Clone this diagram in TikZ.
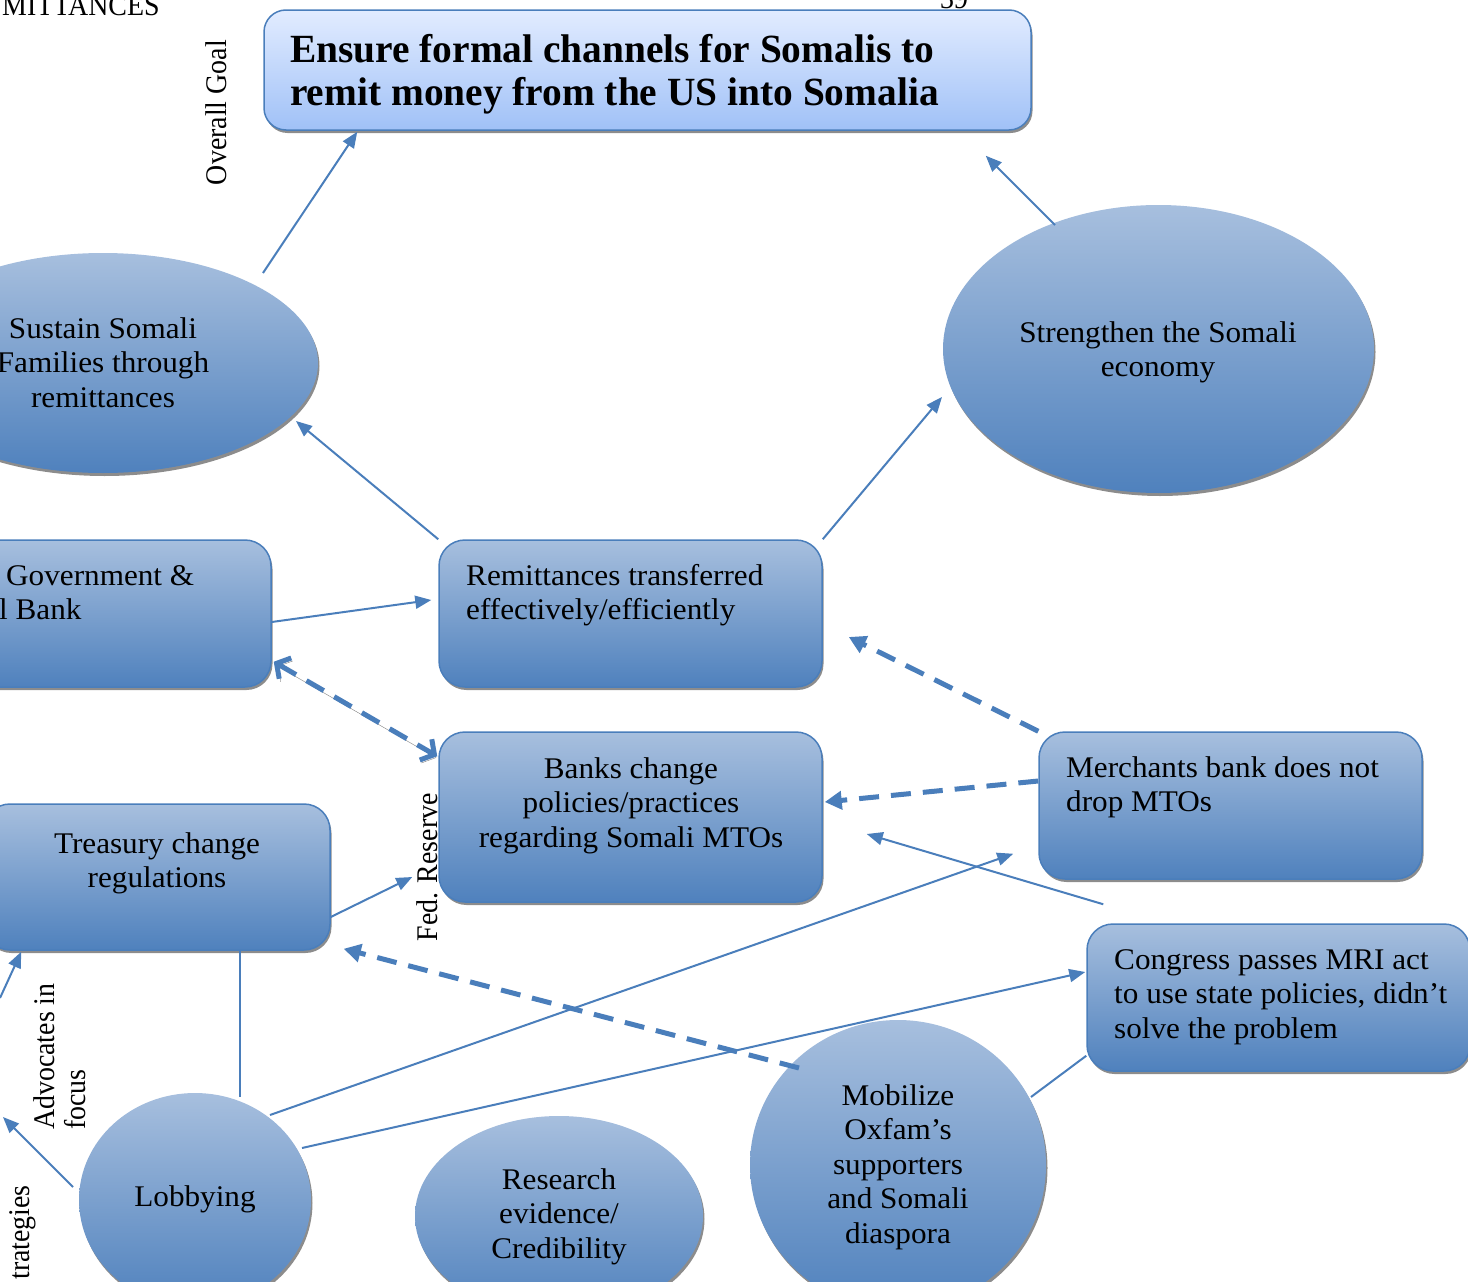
\documentclass[tikz,border=0pt]{standalone}
\usepackage{fontspec}
\setmainfont{Liberation Serif}[FakeStretch=1.04]
\newfontfamily\titlefont{Liberation Serif}[FakeStretch=0.985]
\newfontfamily\sidefont{Liberation Serif}[FakeStretch=0.93]
\usetikzlibrary{shapes.geometric,arrows.meta,calc,shadows}
\definecolor{lnblue}{RGB}{74,126,187}
\definecolor{boxtop}{RGB}{167,191,222}
\definecolor{boxbot}{RGB}{79,129,189}
\definecolor{ttop}{RGB}{226,236,255}
\definecolor{tbot}{RGB}{160,193,247}
\begin{document}
\begin{tikzpicture}[x=1pt,y=-1pt,
  font=\fontsize{30}{34.5}\selectfont,
  shad/.style={drop shadow={shadow xshift=1.5pt,shadow yshift=-3pt,fill=black!50,opacity=0.9}},
  rbox/.style={rectangle,rounded corners=26pt,draw=lnblue,line width=1.5pt,top color=boxtop,bottom color=boxbot,shad,inner sep=0pt},
  tbox/.style={rectangle,rounded corners=22pt,draw=lnblue,line width=1.5pt,top color=ttop,bottom color=tbot,shad,inner sep=0pt},
  oval/.style={ellipse,top color=boxtop,bottom color=boxbot,shad,inner sep=0pt},
  lbl/.style={inner sep=0pt,text=black},
  side/.style={lbl,font=\fontsize{30}{31}\sidefont},
  conn/.style={draw=lnblue,line width=2pt,-{Triangle[length=16pt,width=13pt]}},
  plainln/.style={draw=lnblue,line width=2pt},
  dconn/.style={draw=lnblue,line width=5pt,dash pattern=on 20pt off 12pt,-{Triangle[length=17pt,width=18pt]}},
  ddconn/.style={draw=lnblue,line width=5pt,dash pattern=on 20pt off 12pt,
     {Straight Barb[length=10pt,width=24pt,line width=5pt]}-{Straight Barb[length=10pt,width=24pt,line width=5pt]},
     preaction={draw=black!50,transform canvas={shift={(1.5pt,-3pt)}}}},
]
\useasboundingbox (0,0) rectangle (1468,1282);

% cut-off page texts
\node[side,anchor=base west] (hdr) at (2,16) {MITTANCES};
\node[side,anchor=base west] (pgn) at (940,9) {39};

% side labels
\node[side,rotate=90,anchor=base east] (lgoal) at (226,40) {Overall Goal};
\node[side,rotate=90,anchor=base east] (lfed) at (437,793) {Fed. Reserve};
\node[side,rotate=90,anchor=north west,align=left] (ladv) at (33,1130) {Advocates in\\focus};
\node[side,rotate=90,anchor=base east] (lstr) at (30,1185) {trategies};

% shapes
\node[tbox,minimum width=767pt,minimum height=120pt] (title) at (647.5,70) {};
\node[oval,minimum width=430pt,minimum height=220pt] (sustain) at (103,363) {};
\node[oval,minimum width=431pt,minimum height=288pt] (strength) at (1158.5,349) {};
\node[rbox,minimum width=401pt,minimum height=147pt] (gov) at (70.5,613.5) {};
\node[rbox,minimum width=383pt,minimum height=147pt] (rem) at (630.5,613.5) {};
\node[rbox,minimum width=383pt,minimum height=170pt] (banks) at (630.5,817) {};
\node[rbox,minimum width=383pt,minimum height=147pt] (merch) at (1230.5,805.5) {};
\node[rbox,minimum width=346pt,minimum height=146pt] (treas) at (157,877) {};
\node[rbox,minimum width=383pt,minimum height=147pt] (cong) at (1278.5,997.5) {};
\node[oval,minimum width=232pt,minimum height=214pt] (lobby) at (195,1200) {};
\node[oval,minimum width=288pt,minimum height=200pt] (research) at (559,1216) {};
\node[oval,minimum width=296pt,minimum height=290pt] (mobil) at (898,1165) {};

% texts (base anchor = baseline of last line)
\node[lbl,anchor=base west,align=left,font=\fontsize{40}{43}\titlefont\bfseries] (ttext) at (290,105) {Ensure formal channels for Somalis to\\remit money from the US into Somalia};
\node[lbl,anchor=base,align=center] (tsus) at (103,407) {Sustain Somali\\Families through\\remittances};
\node[lbl,anchor=base,align=center] (tstr) at (1158,376.5) {Strengthen the Somali\\economy};
\node[lbl,anchor=base west,align=left] (tgov) at (-1,619.5) {\hspace*{7pt}Government \&\\l Bank};
\node[lbl,anchor=base west,align=left] (trem) at (466,619.5) {Remittances transferred\\effectively/efficiently};
\node[lbl,anchor=base,align=center] (tban) at (631,847) {Banks change\\policies/practices\\regarding Somali MTOs};
\node[lbl,anchor=base west,align=left] (tmer) at (1066,811.5) {Merchants bank does not\\drop MTOs};
\node[lbl,anchor=base,align=center] (ttre) at (157,887.5) {Treasury change\\regulations};
\node[lbl,anchor=base west,align=left] (tcon) at (1114,1038) {Congress passes MRI act\\to use state policies, didn’t\\solve the problem};
\node[lbl,anchor=base] (tlob) at (195,1206) {Lobbying};
\node[lbl,anchor=base,align=center] (tres) at (559,1258) {Research\\evidence/\\Credibility};
\node[lbl,anchor=base,align=center] (tmob) at (898,1243) {Mobilize\\Oxfam’s\\supporters\\and Somali\\diaspora};

% free ends
\coordinate (pinA) at (0,998);
\coordinate (pinB) at (3,1117);

% connectors
\draw[conn] ($(sustain.center)+(160,-90)$) -- ($(title.south west)+(94,1)$);
\draw[conn] ($(strength.center)+(-103.5,-124)$) -- ($(title.south east)+(-46,25)$);
\draw[conn] (rem.north west) -- ($(sustain.center)+(193,58)$);
\draw[conn] (rem.north east) -- ($(strength.center)+(-216.5,48)$);
\draw[conn] ($(gov.east)+(0,8.5)$) -- ($(rem.west)+(-7,-13.5)$);
\draw[ddconn] ($(gov.south east)+(2,-26)$) -- ($(banks.north west)+(-1,25)$);
\draw[dconn] (merch.north west) -- ($(rem.east)+(26,23.5)$);
\draw[dconn] ($(merch.west)+(0,-24.5)$) -- ($(banks.east)+(2,-15)$);
\draw[conn] ($(cong.north west)+(17,-19)$) -- ($(banks.east)+(44,17)$);
\draw[conn] ($(lobby.center)+(75,-85)$) -- ($(merch.south west)+(-25,-26)$);
\draw[conn] ($(lobby.center)+(107,-52)$) -- ($(cong.west)+(-1,-25.5)$);
\draw[plainln] ($(cong.south west)+(0,-16)$) -- ($(mobil.center)+(133,-68)$);
\draw[dconn] ($(mobil.center)+(-99,-97)$) -- ($(treas.south east)+(13,-2)$);
\draw[conn] ($(treas.east)+(0,40)$) -- ($(banks.west)+(-26,60)$);
\draw[plainln] ($(treas.south)+(83,0)$) -- ($(lobby.center)+(45,-103)$);
\draw[conn] (pinA) -- ($(treas.south west)+(38,1)$);
\draw[conn] ($(lobby.center)+(-122,-13)$) -- (pinB);
\end{tikzpicture}
\end{document}
